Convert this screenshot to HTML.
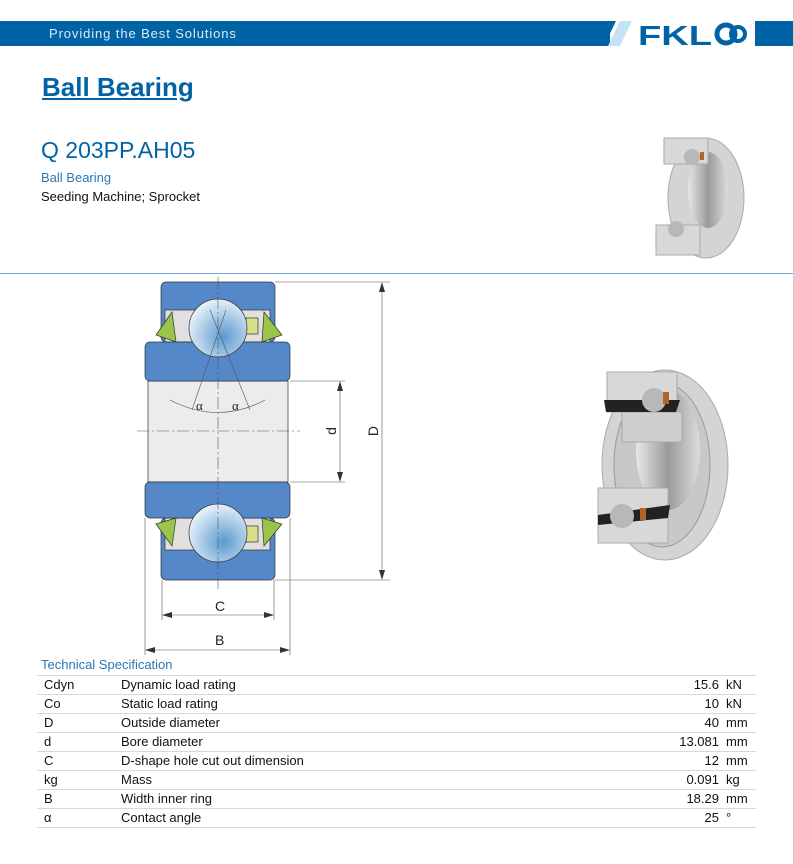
<!DOCTYPE html>
<html><head><meta charset="utf-8"><style>
body{margin:0;width:794px;height:864px;background:#fff;font-family:"Liberation Sans",sans-serif;position:relative;overflow:hidden}
.a{position:absolute;white-space:nowrap}
table{position:absolute;left:37px;top:675px;width:719px;border-collapse:collapse;font-size:13px;color:#111}
td{height:18px;border-top:1px solid #d8d8d8;padding:0;line-height:18px}
tr:last-child td{border-bottom:1px solid #d8d8d8}
.v{text-align:right;width:80px}
.u{padding-left:7px;width:30px}
</style></head><body>
<div class="a" style="left:0;top:21px;width:610px;height:25px;background:#0063a6"></div>
<div class="a" style="left:49px;top:26px;font-size:13px;color:#dfe9f3;letter-spacing:0.9px">Providing the Best Solutions</div>
<svg class="a" style="left:590px;top:21px" width="204" height="25">
<polygon points="20,0 26,0 14,25 8,25" fill="#0063a6"/>
<polygon points="30,0 42,0 30,25 18,25" fill="#c5e3f7"/>
<text x="48" y="24" font-family="Liberation Sans,sans-serif" font-weight="bold" font-size="28" fill="#0063a6" textLength="74" lengthAdjust="spacingAndGlyphs">FKL</text>
<circle cx="136" cy="13" r="9" fill="none" stroke="#0063a6" stroke-width="5"/>
<circle cx="148" cy="13" r="7" fill="none" stroke="#0063a6" stroke-width="4"/>
<rect x="165" y="0" width="39" height="25" fill="#0063a6"/>
</svg>
<div class="a" style="left:42px;top:72px;font-size:26px;font-weight:bold;color:#0063a6;text-decoration:underline">Ball Bearing</div>
<div class="a" style="left:41px;top:137px;font-size:23px;color:#0063a6">Q 203PP.AH05</div>
<div class="a" style="left:41px;top:170px;font-size:13px;color:#2a78b6">Ball Bearing</div>
<div class="a" style="left:41px;top:189px;font-size:13px;color:#111">Seeding Machine; Sprocket</div>
<div class="a" style="left:0;top:273px;width:794px;height:1px;background:#6aa8d8"></div>
<div class="a" style="left:793px;top:0;width:1px;height:864px;background:#ccc"></div>

<svg class="a" style="left:0;top:0" width="794" height="864">
<defs>
<radialGradient id="b" cx="0.6" cy="0.65" r="0.7"><stop offset="0" stop-color="#5a9ad0"/><stop offset="1" stop-color="#f2f7fc"/></radialGradient>
<linearGradient id="m" x1="0" x2="1"><stop offset="0" stop-color="#e8e8e8"/><stop offset="0.5" stop-color="#9a9a9a"/><stop offset="1" stop-color="#dcdcdc"/></linearGradient>
</defs>
<g stroke="#333" stroke-width="0.7">
<rect x="148" y="381" width="140" height="101" fill="#ececec"/>
<rect x="161" y="282" width="114" height="60" rx="5" fill="#5588c8"/>
<rect x="161" y="518" width="114" height="62" rx="5" fill="#5588c8"/>
<rect x="165" y="310" width="105" height="32" fill="#e0e0e0"/>
<rect x="165" y="518" width="105" height="32" fill="#e0e0e0"/>
<rect x="246" y="318" width="12" height="16" fill="#d8e088"/>
<rect x="246" y="526" width="12" height="16" fill="#d8e088"/>
<polygon points="156,335 172,312 176,342" fill="#9bc54a"/>
<polygon points="282,335 264,312 262,342" fill="#9bc54a"/>
<polygon points="156,524 172,546 176,518" fill="#9bc54a"/>
<polygon points="282,524 264,546 262,518" fill="#9bc54a"/>
<rect x="145" y="342" width="145" height="39" rx="5" fill="#5588c8"/>
<rect x="145" y="482" width="145" height="36" rx="5" fill="#5588c8"/>
<circle cx="218" cy="328" r="29" fill="url(#b)"/>
<circle cx="218" cy="533" r="29" fill="url(#b)"/>
</g>
<g stroke="#555" stroke-width="0.6" fill="none">
<line x1="218" y1="277" x2="218" y2="590" stroke-dasharray="12,3,2,3"/>
<line x1="137" y1="431" x2="300" y2="431" stroke-dasharray="12,3,2,3"/>
<line x1="192" y1="410" x2="226" y2="310"/><line x1="250" y1="410" x2="210" y2="310"/>
<path d="M170,400 Q218,425 265,400"/>
<line x1="275" y1="282" x2="390" y2="282"/><line x1="275" y1="580" x2="390" y2="580"/>
<line x1="382" y1="285" x2="382" y2="577"/>
<line x1="290" y1="381" x2="345" y2="381"/><line x1="290" y1="482" x2="345" y2="482"/>
<line x1="340" y1="384" x2="340" y2="479"/>
<line x1="162" y1="580" x2="162" y2="620"/><line x1="274" y1="580" x2="274" y2="620"/>
<line x1="165" y1="615" x2="271" y2="615"/>
<line x1="145" y1="518" x2="145" y2="655"/><line x1="290" y1="518" x2="290" y2="655"/>
<line x1="148" y1="650" x2="287" y2="650"/>
</g>
<g fill="#333">
<polygon points="382,282 379,292 385,292"/><polygon points="382,580 379,570 385,570"/>
<polygon points="340,381 337,391 343,391"/><polygon points="340,482 337,472 343,472"/>
<polygon points="162,615 172,612 172,618"/><polygon points="274,615 264,612 264,618"/>
<polygon points="145,650 155,647 155,653"/><polygon points="290,650 280,647 280,653"/>
</g>
<g font-family="Liberation Sans,sans-serif" font-size="14" fill="#222">
<text x="196" y="410" font-family="Liberation Serif,serif" font-size="13">α</text>
<text x="232" y="410" font-family="Liberation Serif,serif" font-size="13">α</text>
<text x="215" y="611">C</text><text x="215" y="645">B</text>
<text transform="translate(336,431) rotate(-90)" text-anchor="middle">d</text>
<text transform="translate(378,431) rotate(-90)" text-anchor="middle">D</text>
</g>
<g>
<ellipse cx="665" cy="465" rx="63" ry="95" fill="#d4d4d4" stroke="#aaa"/>
<ellipse cx="662" cy="465" rx="48" ry="82" fill="#c8c8c8" stroke="#999"/>
<ellipse cx="668" cy="450" rx="32" ry="60" fill="url(#m)"/>
<rect x="607" y="372" width="70" height="40" fill="#d8d8d8" stroke="#aaa"/>
<rect x="622" y="412" width="60" height="30" fill="#cfcfcf" stroke="#aaa"/>
<rect x="598" y="488" width="70" height="55" fill="#d8d8d8" stroke="#aaa"/>
<path d="M604,400 L680,400 L676,412 L606,412Z" fill="#222"/>
<path d="M598,515 L670,505 L668,518 L598,525Z" fill="#222"/>
<circle cx="654" cy="400" r="12" fill="#b8b8b8"/>
<circle cx="622" cy="516" r="12" fill="#b8b8b8"/>
<rect x="663" y="392" width="6" height="12" fill="#b0642a"/>
<rect x="640" y="508" width="6" height="12" fill="#b0642a"/>
</g>
<g>
<ellipse cx="706" cy="198" rx="38" ry="60" fill="#d4d4d4" stroke="#aaa"/>
<ellipse cx="708" cy="190" rx="20" ry="38" fill="url(#m)"/>
<rect x="664" y="138" width="44" height="26" fill="#d8d8d8" stroke="#aaa"/>
<rect x="656" y="225" width="44" height="30" fill="#d8d8d8" stroke="#aaa"/>
<circle cx="692" cy="157" r="8" fill="#b8b8b8"/>
<circle cx="676" cy="229" r="8" fill="#b8b8b8"/>
<rect x="700" y="152" width="4" height="8" fill="#b0642a"/>
</g>
</svg>

<div class="a" style="left:41px;top:657px;font-size:13px;color:#2a78b6">Technical Specification</div>
<table>
<tr><td style="width:77px;padding-left:7px">Cdyn</td><td>Dynamic load rating</td><td class="v">15.6</td><td class="u">kN</td></tr>
<tr><td style="padding-left:7px">Co</td><td>Static load rating</td><td class="v">10</td><td class="u">kN</td></tr>
<tr><td style="padding-left:7px">D</td><td>Outside diameter</td><td class="v">40</td><td class="u">mm</td></tr>
<tr><td style="padding-left:7px">d</td><td>Bore diameter</td><td class="v">13.081</td><td class="u">mm</td></tr>
<tr><td style="padding-left:7px">C</td><td>D-shape hole cut out dimension</td><td class="v">12</td><td class="u">mm</td></tr>
<tr><td style="padding-left:7px">kg</td><td>Mass</td><td class="v">0.091</td><td class="u">kg</td></tr>
<tr><td style="padding-left:7px">B</td><td>Width inner ring</td><td class="v">18.29</td><td class="u">mm</td></tr>
<tr><td style="padding-left:7px">α</td><td>Contact angle</td><td class="v">25</td><td class="u">°</td></tr>
</table>
</body></html>
